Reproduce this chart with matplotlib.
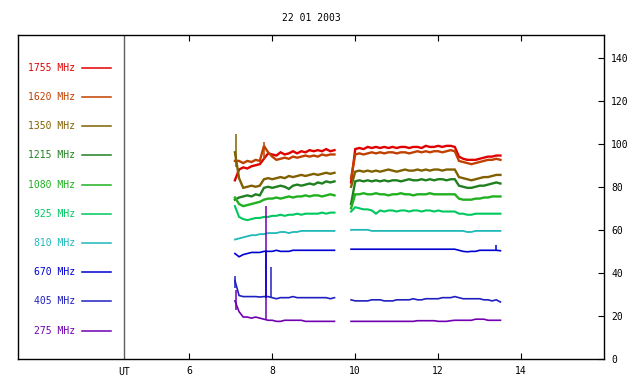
import numpy as np
import matplotlib.pyplot as plt

# time grid (UT hours), gap between the two recording blocks
t = np.concatenate([np.arange(7.1, 9.55, 0.1), [np.nan], np.arange(9.9, 13.55, 0.1)])
gap = np.nan

freqs = ['1755 MHz', '1620 MHz', '1350 MHz', '1215 MHz', '1080 MHz',
         '925 MHz', '810 MHz', '670 MHz', '405 MHz', '275 MHz']
colors = ['#e00000', '#c04000', '#806000', '#208020', '#20b020',
          '#00c860', '#20b8b8', '#0000d0', '#2020c0', '#7000b0']

f1755 = [83, 88, 89, 88.5, 89.5, 90, 90.5, 93, 95.5, 95, 94.5, 96, 95, 95.5, 96.5, 95.5, 96.5, 96, 97, 96.5, 97, 96.5, 97.5, 96.5, 97,
         gap,
         82, 97.5, 98, 97.5, 98.5, 98, 98.5, 98, 98.5, 98, 98.5, 98, 98.5, 98.5, 98, 98.5, 98.5, 98, 99, 98.5, 98.5,
         99, 98.5, 99, 99, 98.5, 94, 93, 92.5, 92.5, 92.5, 93, 93.5, 94, 94, 94.5, 94.5]
f1620 = [92, 92, 91, 92, 91.5, 92.5, 92, 99, 96, 94, 92.5, 93, 93.5, 93, 94, 93.5, 94, 94.5, 94, 94.5, 94, 95, 94.5, 95, 95,
         gap,
         84, 95, 95.5, 95, 95.5, 96, 95.5, 96, 95.5, 96, 96, 95.5, 96, 96, 95.5, 96, 96.5, 96, 96.5, 96, 96.5,
         96.5, 96, 96.5, 97, 96.5, 92, 91.5, 91, 90.5, 91, 91.5, 92, 92.5, 92.5, 93, 92.5]
f1350 = [96, 84, 79.5, 80, 80.5, 80, 80.5, 83.5, 84, 83.5, 84, 84.5, 84, 85, 84.5, 85, 85.5, 85, 85.5, 86, 85.5, 86, 86.5, 86, 86.5,
         gap,
         80, 87, 87.5, 87, 87.5, 87, 87.5, 87, 87.5, 88, 87.5, 87, 87.5, 88, 87.5, 87.5, 88, 87.5, 88, 87.5, 88,
         88, 87.5, 88, 88, 88, 84.5, 84, 83.5, 83, 83.5, 84, 84.5, 84.5, 85, 85.5, 85.5]
f1215 = [74, 75, 75.5, 76, 75.5, 76.5, 76, 79.5, 80, 79.5, 80, 80.5, 80, 79, 80.5, 81, 80.5, 81, 81.5, 81, 82, 81.5, 82.5, 82, 82.5,
         gap,
         72, 82.5, 83, 82.5, 83, 82.5, 83, 82.5, 83, 82.5, 83, 83, 82.5, 83, 83.5, 83, 83, 83.5, 83, 83.5, 83,
         83.5, 83.5, 83, 83.5, 83.5, 80.5, 80, 79.5, 79.5, 80, 80.5, 80.5, 81, 81.5, 82, 81.5]
f1080 = [75, 72, 71, 71.5, 72, 72.5, 73, 74, 74.5, 74.5, 75, 74.5, 75, 75.5, 75, 75.5, 75.5, 76, 75.5, 76, 76, 75.5, 76, 76.5, 76,
         gap,
         70, 76.5, 76.5, 77, 76.5, 76.5, 77, 76.5, 76.5, 76, 76.5, 76.5, 77, 76.5, 76.5, 76, 76.5, 76.5, 76.5, 77, 76.5,
         76.5, 76.5, 76.5, 76.5, 76.5, 74.5, 74, 74, 74, 74.5, 74.5, 75, 75, 75.5, 75.5, 75.5]
f925 = [71, 66, 65, 64.5, 65, 65.5, 65.5, 66, 66, 66.5, 66.5, 67, 66.5, 67, 67, 67.5, 67, 67.5, 67.5, 67.5, 67.5, 68, 67.5, 68, 68,
        gap,
        68.5, 70.5, 70, 69.5, 69.5, 69, 67.5, 69, 68.5, 69, 69, 68.5, 69, 69, 68.5, 69, 69, 68.5, 69, 69, 68.5,
        69, 68.5, 68.5, 68.5, 68.5, 67.5, 67.5, 67, 67, 67.5, 67.5, 67.5, 67.5, 67.5, 67.5, 67.5]
f810 = [55.5, 56, 56.5, 57, 57.5, 57.5, 58, 58, 58.5, 58.5, 58.5, 59, 59, 58.5, 59, 59, 59.5, 59.5, 59.5, 59.5, 59.5, 59.5, 59.5, 59.5, 59.5,
        gap,
        60, 60, 60, 60, 60, 59.5, 59.5, 59.5, 59.5, 59.5, 59.5, 59.5, 59.5, 59.5, 59.5, 59.5, 59.5, 59.5, 59.5, 59.5, 59.5,
        59.5, 59.5, 59.5, 59.5, 59.5, 59.5, 59.5, 59, 59, 59.5, 59.5, 59.5, 59.5, 59.5, 59.5, 59.5]
f670 = [49, 47.5, 48.5, 49, 49.5, 49.5, 49.5, 50, 50, 50, 50.5, 50, 50, 50, 50.5, 50.5, 50.5, 50.5, 50.5, 50.5, 50.5, 50.5, 50.5, 50.5, 50.5,
        gap,
        51, 51, 51, 51, 51, 51, 51, 51, 51, 51, 51, 51, 51, 51, 51, 51, 51, 51, 51, 51, 51,
        51, 51, 51, 51, 51, 50.5, 50, 49.8, 50, 50, 50.5, 50.5, 50.5, 50.5, 50.5, 50.3]
f405 = [36.5, 29.5, 29, 29, 29, 29, 28.8, 29, 29, 28.5, 28, 28.5, 28.5, 28.5, 29, 28.5, 28.5, 28.5, 28.5, 28.5, 28.5, 28.5, 28.5, 28, 28.5,
        gap,
        27.5, 27, 27, 27, 27, 27.5, 27.5, 27.5, 27, 27, 27, 27.5, 27.5, 27.5, 27.5, 28, 27.5, 27.5, 28, 28, 28,
        28, 28.5, 28.5, 28.5, 29, 28.5, 28, 28, 28, 28, 28, 27.5, 27.5, 27, 27.5, 26.5]
f275 = [27, 22, 19.5, 19.5, 19, 19.5, 19, 18.5, 18, 18, 17.5, 17.5, 18, 18, 18, 18, 18, 17.5, 17.5, 17.5, 17.5, 17.5, 17.5, 17.5, 17.5,
        gap,
        17.5, 17.5, 17.5, 17.5, 17.5, 17.5, 17.5, 17.5, 17.5, 17.5, 17.5, 17.5, 17.5, 17.5, 17.5, 17.5, 17.8, 17.8, 17.8, 17.8, 17.8,
        17.5, 17.5, 17.5, 17.8, 18, 18, 18, 18, 18, 18.5, 18.5, 18.5, 18, 18, 18, 18]
series = [f1755, f1620, f1350, f1215, f1080, f925, f810, f670, f405, f275]
widths = [1.7, 1.7, 1.7, 1.7, 1.7, 1.5, 1.3, 1.2, 1.2, 1.2]

# short spikes / glitches (time, low, high, series index)
spike_t = [7.84, 7.84, 7.97, 7.10, 7.12, 13.40, 7.13, 7.80]
spike_lo = [18, 28.5, 28.5, 33, 23, 50.3, 89, 93]
spike_hi = [71, 50.5, 42.8, 38.5, 32, 53, 104.5, 101]
spike_s = [9, 7, 8, 8, 9, 7, 2, 1]

plt.rcParams['font.family'] = 'DejaVu Sans Mono'
plt.rcParams['font.size'] = 7

fig = plt.figure(figsize=(6.4, 3.84), dpi=100)
ax = fig.add_axes([0.028, 0.065, 0.916, 0.844])

for vals, c, w in zip(series, colors, widths):
    ax.plot(t, vals, color=c, lw=w, solid_joinstyle='miter')
for st, lo, hi, s in zip(spike_t, spike_lo, spike_hi, spike_s):
    ax.vlines(st, lo, hi, color=colors[s], lw=1.1)

# legend block on the left of the UT line
for i, (name, c) in enumerate(zip(freqs, colors)):
    y = 135.2 - 13.55 * i
    ax.text(3.25, y, name, color=c, ha='right', va='center', fontsize=7)
    ax.plot([3.41, 4.11], [y, y], color=c, lw=1.1)

ax.axvline(4.43, color='#606060', lw=1)
ax.text(4.43, -3.5, 'UT', ha='center', va='top', fontsize=7)

ax.set_xlim(1.87, 16)
ax.set_ylim(0, 150.5)
ax.set_xticks([6, 8, 10, 12, 14])
ax.set_yticks(range(0, 141, 20))
ax.tick_params(direction='in', length=4, top=True, bottom=True, left=False,
               right=True, labelleft=False, labelright=True, labelsize=7, pad=5)
for sp in ax.spines.values():
    sp.set_linewidth(1)
ax.set_title('22 01 2003', fontsize=7, pad=10)

fig.savefig('out.png', dpi=100)
